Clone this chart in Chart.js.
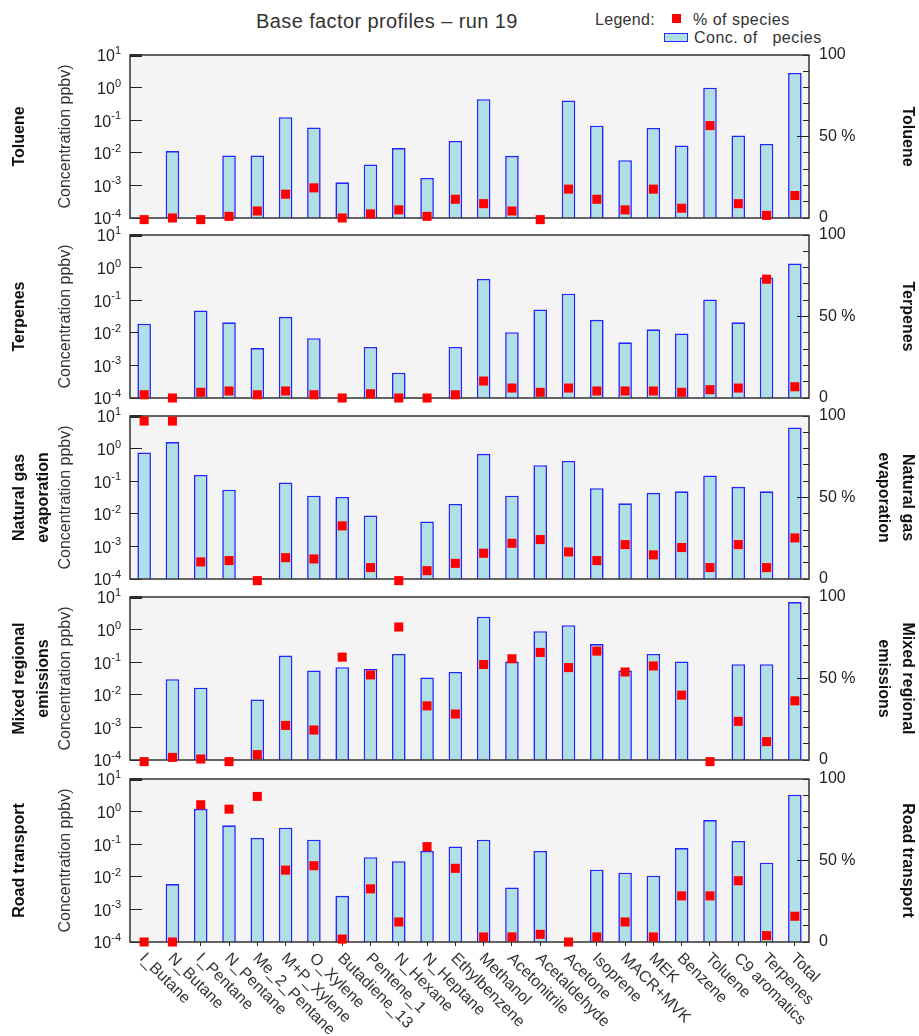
<!DOCTYPE html>
<html>
<head>
<meta charset="utf-8">
<title>Base factor profiles - run 19</title>
<script src="https://cdn.jsdelivr.net/npm/chart.js@4.4.0/dist/chart.umd.min.js"></script>
<style>
  body { margin: 0; background: #fff; width: 919px; height: 1036px; position: relative; overflow: hidden;
         font-family: 'Liberation Sans', Arial, sans-serif; }
  canvas { position: absolute; left: 0; }
  .txt { position: absolute; color: #333; white-space: pre; line-height: 1; }
  .box { position: absolute; }
</style>
</head>
<body>
<div class="txt" style="left:256px; top:11px; font-size:20px; letter-spacing:0.4px;">Base factor profiles – run 19</div>
<div class="txt" style="left:595px; top:12px; font-size:16px; letter-spacing:0.3px;">Legend:</div>
<div class="box" style="left:672px; top:14px; width:9px; height:9px; background:#ff0000;"></div>
<div class="txt" style="left:693px; top:12px; font-size:16px; letter-spacing:0.5px;">% of species</div>
<div class="box" style="left:664px; top:33px; width:22px; height:7px; background:#b0dfe5; border:1.5px solid #2b2bff;"></div>
<div class="txt" style="left:694px; top:30px; font-size:16px; letter-spacing:0.5px;">Conc. of   pecies</div>

<script>
// Categories (species)
const categories = ['I_Butane', 'N_Butane', 'I_Pentane', 'N_Pentane', 'Me_2_Pentane', 'M+P_Xylene',
  'O_Xylene', 'Butadiene_13', 'Pentene_1', 'N_Hexane', 'N_Heptane', 'Ethylbenzene', 'Methanol',
  'Acetonitrile', 'Acetaldehyde', 'Acetone', 'Isoprene', 'MACR+MVK', 'MEK', 'Benzene', 'Toluene',
  'C9 aromatics', 'Terpenes', 'Total'];

// Tick labels
const decadeTicks = [1e-4, 1e-3, 1e-2, 1e-1, 1, 10];
const decadeExps = ['-4', '-3', '-2', '-1', '0', '1'];   // shown as 10^exp
const pctTickValues = [0, 10, 20, 30, 40, 50, 60, 70, 80, 90, 100];
const pctTickLabels = ['0', '', '', '', '', '50 %', '', '', '', '', '100'];

// Factor names
const factorNames = [['Toluene'], ['Terpenes'], ['Natural gas', 'evaporation'], ['Mixed regional', 'emissions'], ['Road transport']];

// Toluene
const concToluene = [null, 0.0113, null, 0.0083, 0.0083, 0.124, 0.06, 0.00124, 0.0044, 0.014, 0.0017, 0.023,
  0.44, 0.0081, null, 0.40, 0.068, 0.0059, 0.058, 0.0166, 0.99, 0.034, 0.0186, 2.8];
const pctToluene = [-1, 0, -1, 1, 4.3, 14.6, 18.5, 0, 2.5, 5, 1, 11.5,
  8.8, 4.3, -1, 17.7, 11.5, 5, 17.7, 6, 56.7, 8.8, 1.6, 13.8];

// Terpenes
const concTerpenes = [0.019, null, 0.048, 0.021, 0.0034, 0.031, 0.0068, null, 0.0037, 0.0006, null, 0.0037,
  0.45, 0.0104, 0.052, 0.158, 0.025, 0.0051, 0.0128, 0.0095, 0.105, 0.021, 0.50, 1.33];
const pctTerpenes = [2, 0, 3.5, 4.3, 2, 4.3, 2, 0, 2.6, 0, 0, 2,
  10.4, 6.1, 3.5, 6.1, 4.3, 4.3, 4.3, 3.5, 5.1, 6.1, 72.9, 6.9];

// Natural gas evaporation
const concNatGas = [0.76, 1.58, 0.155, 0.055, null, 0.091, 0.036, 0.033, 0.0089, null, 0.0058, 0.02,
  0.69, 0.036, 0.31, 0.42, 0.061, 0.021, 0.044, 0.049, 0.15, 0.067, 0.049, 4.4];
const pctNatGas = [96.9, 96.9, 10.5, 11.3, -1, 13.1, 12.3, 32.6, 7, -1, 5.1, 9.6,
  15.8, 21.9, 24.2, 16.6, 11.3, 21.1, 14.8, 19.3, 7, 21.1, 7, 25.2];

// Mixed regional emissions
const concMixed = [null, 0.030, 0.0165, null, 0.0072, 0.16, 0.056, 0.07, 0.062, 0.18, 0.034, 0.05,
  2.5, 0.105, 0.89, 1.36, 0.36, 0.056, 0.18, 0.105, null, 0.087, 0.087, 7.0];
const pctMixed = [-1, 1.6, 0.6, -1, 3.3, 21.2, 18.4, 63.1, 52.2, 81.6, 33.2, 28.2,
  58.6, 62.1, 66, 56.7, 66.8, 54, 57.7, 39.8, -1, 23.7, 11.3, 36.3];

// Road transport
const concRoad = [null, 0.006, 1.22, 0.38, 0.156, 0.32, 0.138, 0.0026, 0.040, 0.030, 0.062, 0.085,
  0.138, 0.0047, 0.062, null, 0.0165, 0.0134, 0.0108, 0.076, 0.55, 0.126, 0.027, 3.3];
const pctRoad = [0, 0, 84.2, 81.5, 89.3, 44.1, 46.8, 1.8, 32.6, 12.3, 58.5, 45.2,
  3.1, 3.1, 4.7, 0, 3.1, 12.3, 3.1, 28.3, 28.3, 37.6, 3.9, 15.8];

const panelConc = [concToluene, concTerpenes, concNatGas, concMixed, concRoad];
const panelPct = [pctToluene, pctTerpenes, pctNatGas, pctMixed, pctRoad];

// Layout of the panels (plot area top, px)
const panelTops = [55, 235, 416, 597, 779];
const plotH = 163;
const padTop = 34;   // must stay above the axis label padding chart.js asks for

Chart.defaults.font.family = "'Liberation Sans', Arial, sans-serif";

// grey plot background, frame, the longer 50 % tick
const framePlugin = {
  id: 'frame',
  beforeDraw(chart) {
    const a = chart.chartArea, c = chart.ctx;
    c.save();
    c.fillStyle = '#f4f4f4';
    c.fillRect(a.left, a.top, a.right - a.left, a.bottom - a.top);
    c.restore();
  },
  afterDatasetDraw(chart, args) {
    if (args.meta.type !== 'bar') return;
    const a = chart.chartArea, c = chart.ctx;
    c.save();
    c.strokeStyle = '#333';
    c.lineWidth = 1.5;
    c.strokeRect(a.left, a.top, a.right - a.left, a.bottom - a.top);
    const y50 = chart.scales.pct.getPixelForValue(50);
    c.lineWidth = 1;
    c.strokeStyle = '#222';
    c.beginPath();
    c.moveTo(a.right - 12, y50);
    c.lineTo(a.right, y50);
    c.stroke();
    c.restore();
  }
};

// 10^n labels of the log axis, with a real raised exponent
const decadeLabelPlugin = {
  id: 'decades',
  afterDraw(chart) {
    const ys = chart.scales.y, c = chart.ctx;
    const xr = chart.chartArea.left - 9;
    c.save();
    c.fillStyle = '#222';
    decadeTicks.forEach((v, i) => {
      const y = ys.getPixelForValue(v);
      const exp = decadeExps[i];
      c.font = "11px 'Liberation Sans', Arial, sans-serif";
      const ew = c.measureText(exp).width;
      c.textAlign = 'left';
      c.textBaseline = 'alphabetic';
      c.fillText(exp, xr - ew, y - 1);
      c.font = "16px 'Liberation Sans', Arial, sans-serif";
      c.textAlign = 'right';
      c.textBaseline = 'middle';
      c.fillText('10', xr - ew, y + 2);
    });
    c.restore();
  }
};

// slanted category labels under the last panel
const xLabelPlugin = {
  id: 'xlabels',
  afterDraw(chart) {
    const xs = chart.scales.x, c = chart.ctx;
    c.save();
    c.font = "16px 'Liberation Sans', Arial, sans-serif";
    c.fillStyle = '#333';
    c.textAlign = 'left';
    c.textBaseline = 'middle';
    categories.forEach((t, i) => {
      const px = xs.getPixelForTick(i);
      c.save();
      c.translate(px - 2, chart.chartArea.bottom + 14);
      c.rotate(Math.PI / 4);
      c.fillText(t, 0, 0);
      c.restore();
    });
    c.restore();
  }
};

function makePanel(idx) {
  const last = idx === panelTops.length - 1;
  const padBottom = last ? 94 : 34;
  const canvas = document.createElement('canvas');
  canvas.width = 919;
  canvas.height = plotH + padTop + padBottom;
  canvas.style.top = (panelTops[idx] - padTop) + 'px';
  document.body.appendChild(canvas);
  const name = factorNames[idx];

  new Chart(canvas, {
    type: 'bar',
    data: {
      labels: categories,
      datasets: [
        {
          type: 'line', label: '% of species', data: panelPct[idx], yAxisID: 'pct',
          showLine: false, pointStyle: 'rect', pointRadius: 6.4, pointHoverRadius: 6.4,
          pointBackgroundColor: '#ff0000', pointBorderColor: '#ff0000', pointBorderWidth: 0,
          clip: false, order: 0
        },
        {
          type: 'bar', label: 'Conc. of species', data: panelConc[idx], yAxisID: 'y',
          backgroundColor: '#b0dfe5', borderColor: '#2424ff', borderWidth: 1.6,
          barPercentage: 0.48, categoryPercentage: 1, order: 1
        }
      ]
    },
    options: {
      responsive: false,
      animation: false,
      layout: { padding: { left: 8, right: 0, top: padTop, bottom: padBottom } },
      plugins: { legend: { display: false }, tooltip: { enabled: false } },
      scales: {
        x: {
          type: 'category', offset: true,
          grid: { display: last, offset: false, drawOnChartArea: false, tickLength: 4, color: '#222' },
          border: { display: false },
          ticks: { display: false },
          afterFit(s) { s.height = 0; }
        },
        y: {
          type: 'logarithmic', position: 'left', weight: 0, min: 1e-4, max: 10,
          afterBuildTicks(s) { s.ticks = decadeTicks.map(v => ({ value: v })); },
          ticks: { display: false },
          grid: {
            drawOnChartArea: false, tickLength: -12, color: '#222',
            lineWidth: c => (c.tick && c.tick.value === 10) ? 3 : 1
          },
          border: { display: false },
          title: { display: true, text: 'Concentration ppbv)', color: '#333', font: { size: 16 }, padding: 0 },
          afterFit(s) { s.width = 74; }
        },
        name: {
          type: 'linear', position: 'left', weight: 1,
          ticks: { display: false }, grid: { display: false }, border: { display: false },
          title: { display: true, text: name, color: '#111', font: { size: 16, weight: 'bold', lineHeight: 1.5 }, padding: 0 },
          afterFit(s) { s.width = 48; }
        },
        pct: {
          type: 'linear', position: 'right', min: 0, max: 100,
          afterBuildTicks(s) { s.ticks = pctTickValues.map(v => ({ value: v })); },
          ticks: {
            autoSkip: false, padding: 16, color: '#222', font: { size: 16 },
            callback: v => pctTickLabels[pctTickValues.indexOf(v)]
          },
          grid: { drawOnChartArea: false, tickLength: -6, color: '#222' },
          border: { display: false },
          title: { display: true, text: name, color: '#111', font: { size: 16, weight: 'bold', lineHeight: 1.5 }, padding: 0 },
          afterFit(s) { s.width = 110; }
        }
      }
    },
    plugins: last ? [framePlugin, decadeLabelPlugin, xLabelPlugin] : [framePlugin, decadeLabelPlugin]
  });
}

for (let i = 0; i < panelTops.length; i++) makePanel(i);
</script>
</body>
</html>
